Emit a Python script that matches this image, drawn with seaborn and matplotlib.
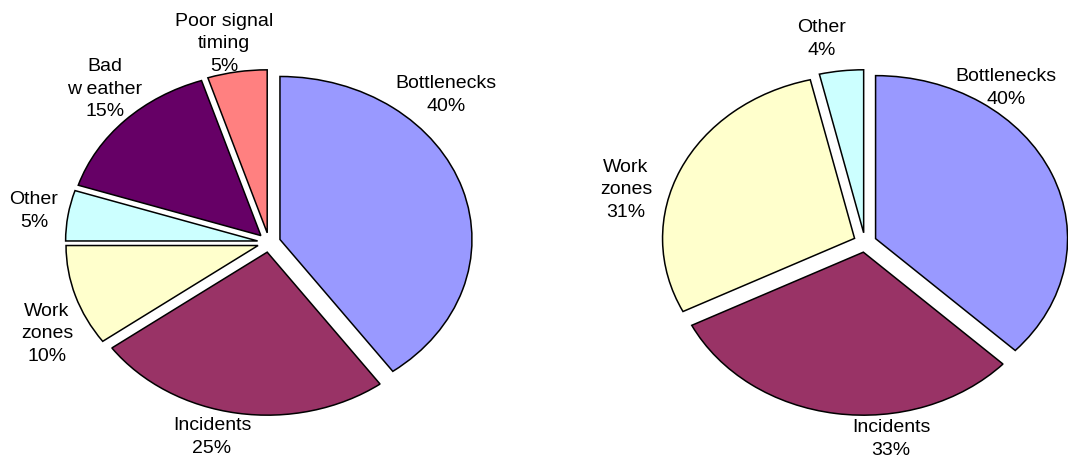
import matplotlib
matplotlib.use("Agg")
import matplotlib.pyplot as plt
import seaborn as sns

# Causes of congestion, two breakdowns (percent)
left_causes = ["Bottlenecks", "Incidents", "Work\nzones", "Other", "Bad\nw eather", "Poor signal\ntiming"]
left_shares = [40, 25, 10, 5, 15, 5]

right_causes = ["Bottlenecks", "Incidents", "Work\nzones", "Other"]
right_shares = [40, 33, 31, 4]

cause_colors = {
    "Bottlenecks": "#9999FF",
    "Incidents": "#993366",
    "Work\nzones": "#FFFFCC",
    "Other": "#CCFFFF",
    "Bad\nw eather": "#660066",
    "Poor signal\ntiming": "#FF8080",
}

sns.set_theme(style="white")
plt.rcParams["font.family"] = ["Liberation Sans", "DejaVu Sans"]

W, H = 1068, 457
RX, RY = 192.0, 163.0          # pie radii in pixels (horizontal, vertical)
YS = RX / RY                   # vertical data units per pixel
EXPLODE = 0.06 * RX            # wedge offset, in data units

fig = plt.figure(figsize=(W / 100, H / 100), dpi=100)
ax = fig.add_axes([0, 0, 1, 1])

# pie centres in pixel layout (x from left, y from top)
centres = [(269, 242.5), (865, 242.5)]

# label block centres in pixel layout
left_label_pos = [(446, 95), (212, 437), (47, 334), (34, 211), (105, 89), (224, 44)]
right_label_pos = [(1006, 88), (891, 439), (626, 190), (822, 39)]

for causes, shares, (cx, cy), label_pos in [
    (left_causes, left_shares, centres[0], left_label_pos),
    (right_causes, right_shares, centres[1], right_label_pos),
]:
    colors = [cause_colors[c] for c in causes]
    ax.pie(
        shares,
        colors=colors,
        startangle=90,
        counterclock=False,
        explode=[EXPLODE] * len(shares),
        radius=RX,
        center=(cx, (H - cy) * YS),
        frame=True,
        wedgeprops=dict(edgecolor="black", linewidth=1.1),
    )
    for name, val, (lx, ly) in zip(causes, shares, label_pos):
        ax.text(lx / W, 1 - ly / H, f"{name}\n{val}%", transform=ax.transAxes,
                ha="center", va="center", fontsize=14, linespacing=1.4,
                color="black")

ax.set_aspect("auto")
ax.set_xlim(0, W)
ax.set_ylim(0, H * YS)
ax.axis("off")

fig.savefig("out.png", dpi=100)
